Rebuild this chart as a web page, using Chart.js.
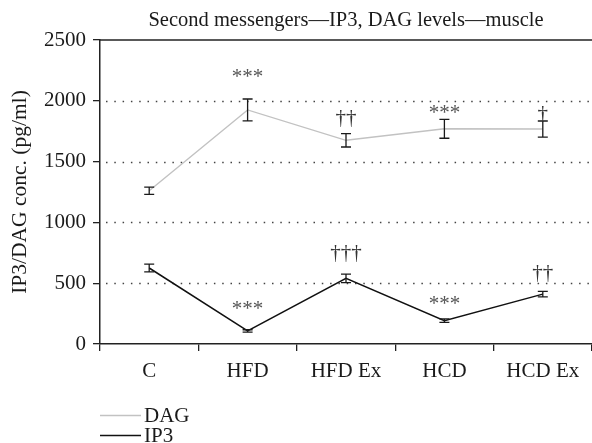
<!DOCTYPE html>
<html>
<head>
<meta charset="utf-8">
<script src="https://cdn.jsdelivr.net/npm/chart.js@4"></script>
<style>
html,body{margin:0;padding:0;background:#fff;}
#wrap{width:592px;height:443px;}
</style>
</head>
<body>
<div id="wrap"><canvas id="c" width="592" height="443"></canvas></div>
<script>
// ---- data ----
const categories = ["C", "HFD", "HFD Ex", "HCD", "HCD Ex"];
const dagValues = [1260, 1925, 1675, 1770, 1768];
const dagErrors = [30, 90, 55, 78, 66];
const ip3Values = [625, 107, 540, 192, 410];
const ip3Errors = [32, 10, 35, 14, 22];
const dagMarks = ["", "***", "††", "***", "†"];
const ip3Marks = ["", "***", "†††", "***", "††"];
const yTicks = [0, 500, 1000, 1500, 2000, 2500];
const titleText = "Second messengers\u2014IP3, DAG levels\u2014muscle";
const yTitle = "IP3/DAG conc. (pg/ml)";

// ---- style ----
const SERIF = '"Liberation Serif", "DejaVu Serif", serif';
const dagMarkGap = [0, 26, 16, 11, 8];
const ip3MarkGap = [0, 25, 22, 19, 19];

const overlay = {
  id: 'overlay',
  beforeDatasetsDraw(chart) {
    const {ctx, chartArea: a, scales: {y}} = chart;
    ctx.save();
    ctx.strokeStyle = '#444';
    ctx.lineWidth = 1.3;
    ctx.setLineDash([1.5, 6.8]);
    yTicks.forEach(v => {
      if (v <= y.min || v >= y.max) return;
      const py = Math.round(y.getPixelForValue(v)) + 0.5;
      ctx.beginPath(); ctx.moveTo(a.left + 6, py); ctx.lineTo(a.right, py); ctx.stroke();
    });
    ctx.setLineDash([]);
    ctx.strokeStyle = '#222';
    ctx.lineWidth = 1.5;
    ctx.beginPath(); ctx.moveTo(a.left, a.top); ctx.lineTo(a.right, a.top); ctx.stroke();
    ctx.restore();
  },
  afterDatasetsDraw(chart) {
    const {ctx, chartArea: a, scales: {x, y}} = chart;
    ctx.save();
    const sets = [[dagValues, dagErrors, dagMarks, dagMarkGap], [ip3Values, ip3Errors, ip3Marks, ip3MarkGap]];
    sets.forEach(([vals, errs, marks, gaps]) => {
      vals.forEach((v, i) => {
        const px = x.getPixelForValue(i);
        const top = y.getPixelForValue(v + errs[i]);
        const bot = y.getPixelForValue(v - errs[i]);
        ctx.strokeStyle = '#1a1a1a';
        ctx.lineWidth = 1.3;
        ctx.beginPath();
        ctx.moveTo(px, top); ctx.lineTo(px, bot);
        ctx.moveTo(px - 5, top); ctx.lineTo(px + 5, top);
        ctx.moveTo(px - 5, bot); ctx.lineTo(px + 5, bot);
        ctx.stroke();
        if (marks[i]) {
          const star = marks[i].indexOf('*') >= 0;
          ctx.fillStyle = star ? '#555' : '#333';
          ctx.font = '21px ' + SERIF;
          ctx.textAlign = 'center';
          ctx.textBaseline = 'middle';
          ctx.fillText(marks[i], px, top - gaps[i] + (star ? 5 : 1));
        }
      });
    });
    // title
    ctx.fillStyle = '#1a1a1a';
    ctx.font = '20.5px ' + SERIF;
    ctx.textAlign = 'center';
    ctx.textBaseline = 'middle';
    ctx.fillText(titleText, (a.left + a.right) / 2, 21);
    // legend
    const items = chart.data.datasets;
    items.forEach((ds, k) => {
      const ly = 415 + k * 20;
      ctx.strokeStyle = ds.borderColor;
      ctx.lineWidth = ds.borderWidth;
      ctx.beginPath(); ctx.moveTo(100, ly + 0.5); ctx.lineTo(141, ly + 0.5); ctx.stroke();
      ctx.fillStyle = '#1a1a1a';
      ctx.font = '21px ' + SERIF;
      ctx.textAlign = 'left';
      ctx.textBaseline = 'middle';
      ctx.fillText(ds.label, 144, ly + 1);
    });
    ctx.restore();
  }
};

new Chart(document.getElementById('c'), {
  type: 'line',
  data: {
    labels: categories,
    datasets: [
      {label: 'DAG', data: dagValues, borderColor: '#c2c2c2', borderWidth: 1.4, pointRadius: 0, tension: 0, fill: false},
      {label: 'IP3', data: ip3Values, borderColor: '#111', borderWidth: 1.5, pointRadius: 0, tension: 0, fill: false}
    ]
  },
  options: {
    responsive: false,
    animation: false,
    devicePixelRatio: 1,
    layout: {padding: {left: 0, right: 0, top: 40, bottom: 0}},
    plugins: {legend: {display: false}, title: {display: false}, tooltip: {enabled: false}},
    scales: {
      x: {
        type: 'category',
        offset: true,
        grid: {display: true, offset: true, drawOnChartArea: false, drawTicks: true, tickLength: 7, color: '#222', lineWidth: 1.3},
        border: {display: true, color: '#222', width: 1.5},
        ticks: {color: '#1a1a1a', font: {family: SERIF, size: 21}, padding: 8, maxRotation: 0, autoSkip: false},
        afterFit(s) { s.height = 99; }
      },
      y: {
        min: 0, max: 2500,
        afterBuildTicks(s) { s.ticks = yTicks.map(v => ({value: v})); },
        grid: {display: true, drawOnChartArea: false, drawTicks: true, tickLength: 7, color: '#222', lineWidth: 1.3},
        border: {display: true, color: '#222', width: 1.5},
        ticks: {color: '#1a1a1a', font: {family: SERIF, size: 21}, padding: 7, callback: v => String(v)},
        title: {display: true, text: yTitle, color: '#1a1a1a', font: {family: SERIF, size: 21.5}, padding: {top: 7, bottom: 0}},
        afterFit(s) { s.width = 100; }
      }
    }
  },
  plugins: [overlay]
});
</script>
</body>
</html>
